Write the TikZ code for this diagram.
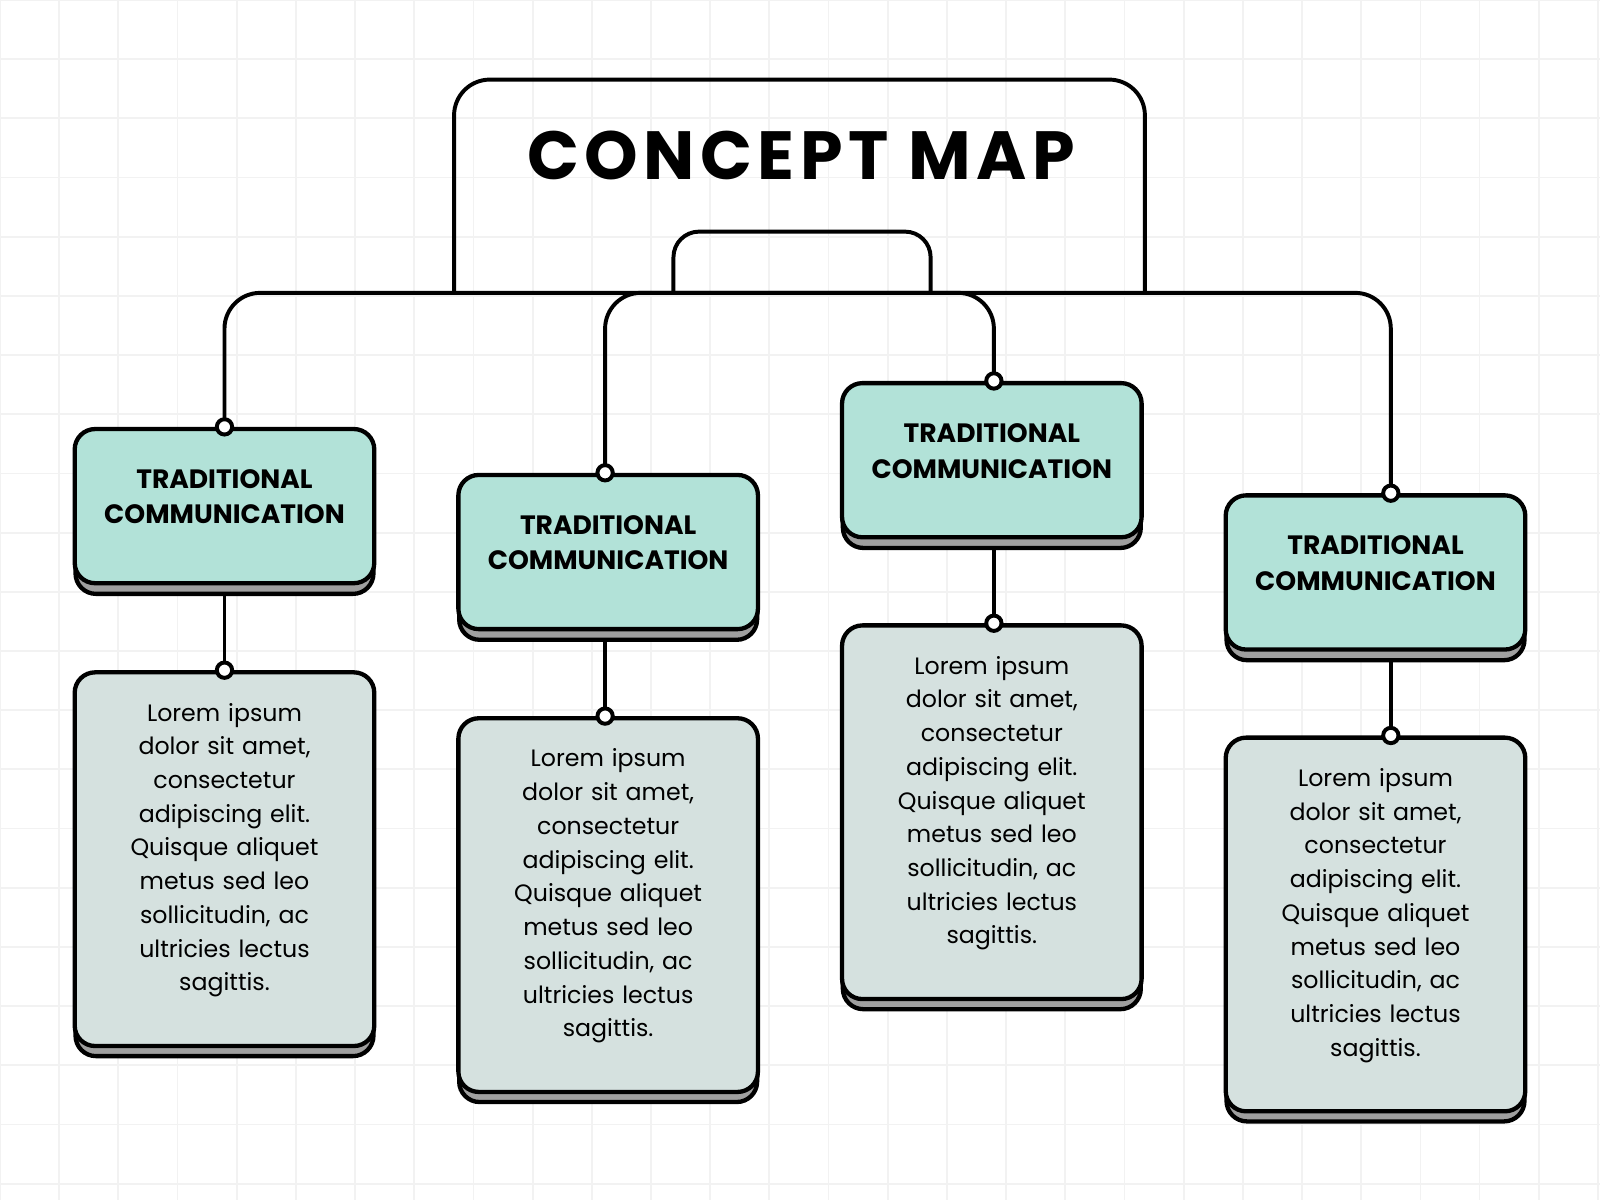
\documentclass[tikz,border=0pt]{standalone}
\usepackage{fontspec}
\setmainfont{Poppins}
\definecolor{headfill}{HTML}{B2E2D8}
\definecolor{bodyfill}{HTML}{D5E1DF}
\tikzset{
  box/.style={draw=black, line width=1.2pt, rounded corners=0.2cm,
    minimum width=2.92cm, text width=2.7cm, align=center},
  head/.style={box, fill=headfill, minimum height=1.51cm, font=\bfseries\fontsize{7.4}{10}\selectfont},
  body/.style={box, fill=bodyfill, minimum height=3.66cm, font=\fontsize{6.6}{9.4}\selectfont},
  shade/.style={draw=black, fill=gray!75, line width=1.2pt, rounded corners=0.2cm},
  link/.style={line width=1.1pt, rounded corners=0.35cm},
  dot/.style={circle, draw=black, fill=white, line width=1.1pt, inner sep=0pt, minimum size=0.15cm}
}
\begin{document}
\begin{tikzpicture}[x=0.01cm, y=0.01cm]
  \useasboundingbox (0,0) rectangle (1568,-1176);
  % background grid
  \fill[white] (0,0) rectangle (1568,-1176);
  \foreach \g in {0,58,...,1568} \draw[gray!10, line width=0.5pt] (\g,0) -- (\g,-1176);
  \foreach \g in {0,58,...,1176} \draw[gray!10, line width=0.5pt] (0,-\g) -- (1568,-\g);

  % title frame
  \draw[link] (445,-285) -- (445,-78) -- (1122,-78) -- (1122,-285);
  \node (title) at (785,-152) {\bfseries\fontsize{19}{24}\selectfont\addfontfeatures{LetterSpace=8}CONCEPT MAP};
  \draw[link, rounded corners=0.25cm] (660,-287) -- (660,-227) -- (912,-227) -- (912,-287);

  % boxes
  \foreach \i/\x/\ht/\bt in {1/220/496/842, 2/596/541/887, 3/972/451/796, 4/1348/561/906} {
    \draw[shade] (\x-146,-\ht+65) rectangle (\x+146,-\ht-86);
    \draw[shade] (\x-146,-\bt+173) rectangle (\x+146,-\bt-193);
    \node[head] (h\i) at (\x,-\ht) {TRADITIONAL\\COMMUNICATION};
    \node[body] (b\i) at (\x,-\bt) {Lorem ipsum\\dolor sit amet,\\consectetur\\adipiscing elit.\\Quisque aliquet\\metus sed leo\\sollicitudin, ac\\ultricies lectus\\sagittis.};
  }

  % connectors
  \coordinate (t1) at (220,-287);
  \coordinate (t3) at (974,-287);
  \coordinate (t4) at (1363,-287);
  \draw[link] (h1.north) -- (t1) -- (t4) -- ([xshift=0.15cm]h4.north);
  \draw[link] ([xshift=-0.03cm]h2.north) |- (t3) -- ([xshift=0.02cm]h3.north);
  \foreach \i/\s in {1/0, 2/-0.03, 3/0.02, 4/0.15} {
    \draw[line width=1.1pt] ([xshift=\s cm, yshift=-0.1cm]h\i.south) -- ([xshift=\s cm]b\i.north);
    \node[dot] at ([xshift=\s cm]h\i.north) {};
    \node[dot] at ([xshift=\s cm]b\i.north) {};
  }
\end{tikzpicture}
\end{document}
